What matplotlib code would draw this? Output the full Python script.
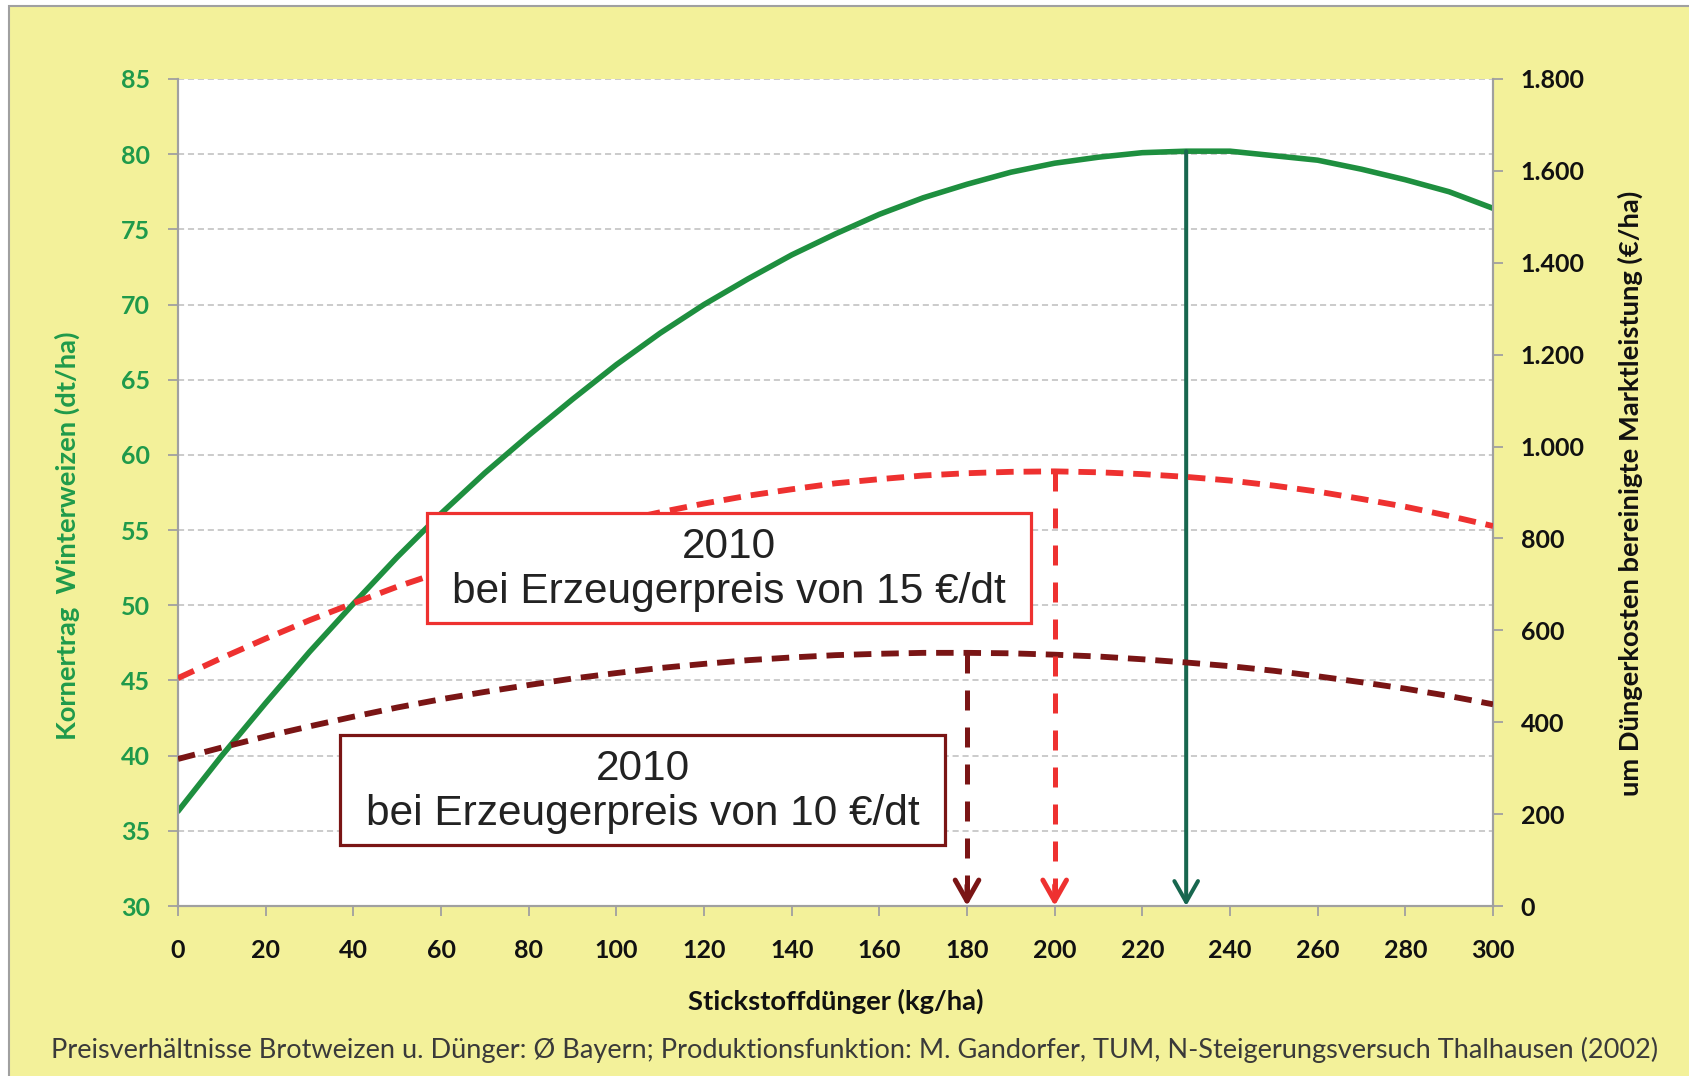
import numpy as np
import matplotlib
matplotlib.use("Agg")
import matplotlib.pyplot as plt
from matplotlib.patches import Rectangle
from matplotlib.ticker import FuncFormatter, MultipleLocator

plt.rcParams['font.family'] = ['Lato', 'DejaVu Sans']
plt.rcParams['font.weight'] = 'bold'

# Stickstoffdünger (kg/ha)
n = np.arange(0, 301, 10)
# Kornertrag Winterweizen (dt/ha), linke Achse
ertrag = [36.3, 40.0, 43.5, 46.9, 50.1, 53.2, 56.1, 58.8, 61.3, 63.7, 66.0,
          68.1, 70.0, 71.7, 73.3, 74.7, 76.0, 77.1, 78.0, 78.8, 79.4,
          79.8, 80.1, 80.2, 80.2, 79.9, 79.6, 79.0, 78.3, 77.5, 76.4]
# bereinigte Marktleistung (€/ha) bei 15 €/dt, rechte Achse
ml15 = [496, 540, 582, 622, 659, 695, 727, 758, 786, 812, 836,
        857, 876, 893, 907, 920, 929, 937, 942, 945, 946,
        944, 940, 934, 926, 915, 902, 886, 869, 849, 827]
# bereinigte Marktleistung (€/ha) bei 10 €/dt
ml10 = [320, 345, 369, 391, 412, 432, 450, 466, 481, 495, 507,
        518, 527, 535, 541, 546, 549, 551, 551, 550, 547,
        543, 537, 530, 522, 512, 500, 487, 473, 457, 439]
# Optima (kg N/ha)
opt_ertrag = 230
opt15 = 200
opt10 = 180

caption = ("Preisverhältnisse Brotweizen u. Dünger: Ø Bayern; Produktionsfunktion: "
           "M. Gandorfer, TUM, N-Steigerungsversuch Thalhausen (2002)")

yellow = '#f3f19a'
green = '#1e8f3f'
green_lbl = '#1f9a4b'
green_arrow = '#18674f'
red = '#ee3130'
darkred = '#7a1515'
gray = '#a0a0a0'

fig = plt.figure(figsize=(16.89, 10.76), dpi=100)
fig.patch.set_facecolor('white')
fig.patches.append(Rectangle((9 / 1689, -0.01), 1.02, 1 - 6 / 1076 + 0.01,
                             transform=fig.transFigure, facecolor=yellow,
                             edgecolor=gray, lw=1.5, zorder=-10))

ax = fig.add_axes([0.10539, 0.15799, 0.77857, 0.76859])
ax.set_facecolor('white')
ax2 = ax.twinx()

ax.set_xlim(0, 300)
ax.set_ylim(30, 85)
ax2.set_ylim(0, 1800)
ax.xaxis.set_major_locator(MultipleLocator(20))
ax.yaxis.set_major_locator(MultipleLocator(5))
ax2.yaxis.set_major_locator(MultipleLocator(200))
ax2.yaxis.set_major_formatter(FuncFormatter(lambda v, _: f"{int(v):,}".replace(",", ".")))

ax.grid(axis='y', color='#bdbdbd', lw=1.1, dashes=(4, 2.5))
ax.set_axisbelow(True)

for a in (ax, ax2):
    a.spines['top'].set_visible(False)
    for s in ('left', 'right', 'bottom'):
        a.spines[s].set_color(gray)
        a.spines[s].set_linewidth(1.5)

ax.tick_params(axis='y', length=7, width=1.3, color=gray, labelcolor=green_lbl,
               labelsize=18, pad=13)
ax.tick_params(axis='x', length=7, width=1.3, color=gray, labelcolor='#111111',
               labelsize=18, pad=17)
ax2.tick_params(axis='y', length=7, width=1.3, color=gray, labelcolor='#111111',
                labelsize=18, pad=13)

# Kurven
ax.plot(n, ertrag, color=green, lw=4.0, solid_capstyle='round', zorder=3)
ax2.plot(n, ml15, color=red, lw=4.2, dashes=(3, 1.7), zorder=3)
ax2.plot(n, ml10, color=darkred, lw=4.2, dashes=(3, 1.7), zorder=3)

# Pfeile zu den Optima
head = '->,head_length=1.5,head_width=0.85'
ax.annotate('', xy=(opt_ertrag, 30), xytext=(opt_ertrag, ertrag[list(n).index(opt_ertrag)]),
            arrowprops=dict(arrowstyle=head, lw=2.9, color=green_arrow,
                            shrinkA=0, shrinkB=0), zorder=4)
for x_opt, series, col in ((opt15, ml15, red), (opt10, ml10, darkred)):
    top = series[list(n).index(x_opt)]
    ax2.plot([x_opt, x_opt], [top, 25], color=col, lw=3.6, dashes=(4, 3.4), zorder=4)
    ax2.annotate('', xy=(x_opt, 0), xytext=(x_opt, 45),
                 arrowprops=dict(arrowstyle=head, lw=3.6, color=col,
                                 shrinkA=0, shrinkB=0), zorder=4)

# Textboxen
boxes = [((0.1894, 0.3422), 0.6487 - 0.1894, 0.4752 - 0.3422, red,
          "2010\nbei Erzeugerpreis von 15 €/dt"),
         ((0.1232, 0.0738), 0.5833 - 0.1232, 0.2068 - 0.0738, darkred,
          "2010\nbei Erzeugerpreis von 10 €/dt")]
for (x0, y0), w, h, col, txt in boxes:
    ax2.add_patch(Rectangle((x0, y0), w, h, transform=ax2.transAxes, facecolor='white',
                            edgecolor=col, lw=2.3, zorder=10))
    ax2.text(x0 + w / 2, y0 + h / 2 - 0.002, txt, transform=ax2.transAxes, ha='center',
             va='center', fontsize=30.5, fontweight='normal', color='#222222',
             family=['Liberation Sans', 'DejaVu Sans'], linespacing=1.15, zorder=11)

# Achsenbeschriftungen
fig.text(67 / 1689, 1 - 536 / 1076, "Kornertrag  Winterweizen (dt/ha)", rotation=90,
         ha='center', va='center', fontsize=19.7, color=green_lbl)
fig.text(1630 / 1689, 1 - 493 / 1076, "um Düngerkosten bereinigte Marktleistung (€/ha)",
         rotation=90, ha='center', va='center', fontsize=19.7, color='#111111')
fig.text(836 / 1689, 1 - 1001 / 1076, "Stickstoffdünger (kg/ha)", ha='center',
         va='center', fontsize=19.7, color='#111111')
fig.text(51 / 1689, 1 - 1050 / 1076, caption, ha='left', va='center', fontsize=19.5,
         fontweight='normal', color='#3a3a3a')

fig.savefig('out.png', dpi=100, facecolor=fig.get_facecolor())
